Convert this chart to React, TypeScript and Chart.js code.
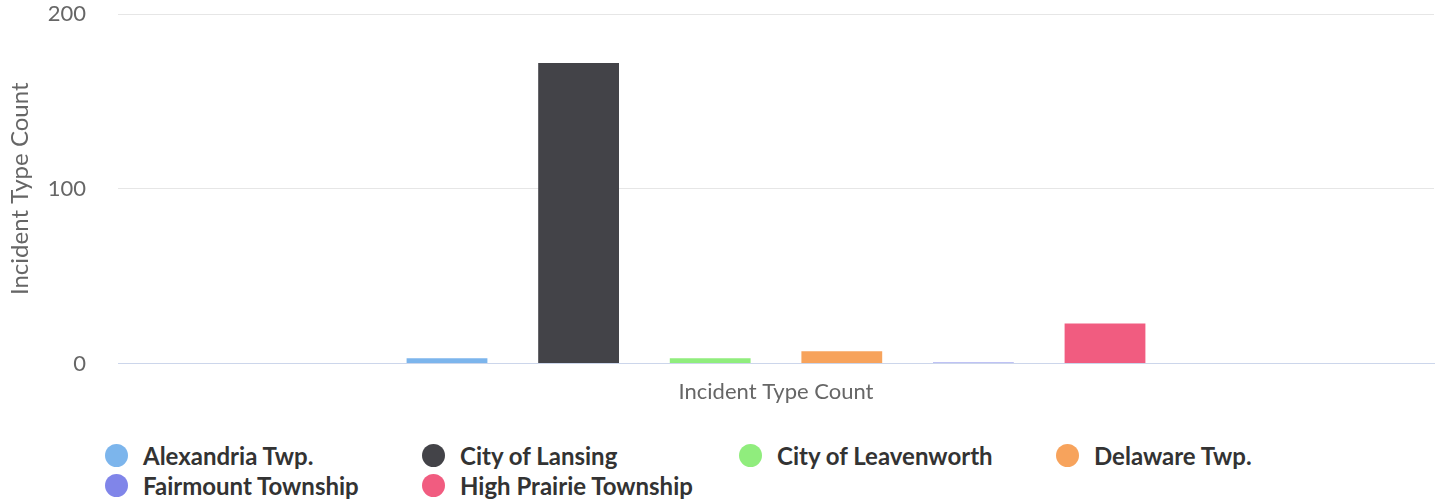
import React, { useEffect, useRef } from "react";
import { Chart, registerables } from "chart.js";

Chart.register(...registerables);

const categories = [""];
const seriesNames = [
  "Alexandria Twp.",
  "City of Lansing",
  "City of Leavenworth",
  "Delaware Twp.",
  "Fairmount Township",
  "High Prairie Township",
];
const seriesValues = [3, 172, 3, 7, 0, 23];
const seriesColors = ["#7cb5ec", "#434348", "#90ed7d", "#f7a35c", "#8085e9", "#f15c80"];
const yTicks = [0, 100, 200];
const axisTitle = "Incident Type Count";

export default function App() {
  const ref = useRef<HTMLCanvasElement | null>(null);

  useEffect(() => {
    document.body.style.margin = "0";
    const canvas = ref.current;
    if (!canvas) return;
    const chart = new Chart(canvas, {
      type: "bar",
      data: {
        labels: categories,
        datasets: seriesNames.map((name, i) => ({
          label: name,
          data: [seriesValues[i]],
          backgroundColor: seriesColors[i],
          borderWidth: 0,
          minBarLength: 1,
          categoryPercentage: 0.6,
          barPercentage: 0.614,
        })),
      },
      options: {
        animation: false,
        responsive: false,
        maintainAspectRatio: false,
        layout: { padding: { top: 14, right: 7, left: 0, bottom: 3 } },
        plugins: { legend: { display: false }, tooltip: { enabled: false } },
        scales: {
          x: {
            grid: { display: false, drawTicks: false },
            border: { display: true, color: "#ccd6eb", width: 1 },
            ticks: { display: false },
            title: {
              display: true,
              text: axisTitle,
              color: "#666666",
              font: { family: "Lato", size: 22 },
              padding: { top: 15, bottom: 0 },
            },
          },
          y: {
            min: 0,
            max: 200,
            afterBuildTicks: (scale: any) => {
              scale.ticks = yTicks.map((v) => ({ value: v }));
            },
            afterFit: (scale: any) => {
              scale.width = 118;
              scale.paddingTop = 0;
              scale.paddingBottom = 0;
            },
            border: { display: false },
            grid: {
              drawTicks: false,
              color: (ctx: any) => (ctx.tick && ctx.tick.value === 0 ? "#ccd6eb" : "#e6e6e6"),
            },
            ticks: {
              padding: 32,
              color: "#666666",
              font: { family: "Lato", size: 22 },
            },
            title: {
              display: true,
              text: axisTitle,
              color: "#666666",
              font: { family: "Lato", size: 24 },
              padding: { top: 6, bottom: 0 },
            },
          },
        },
      },
    });
    return () => chart.destroy();
  }, []);

  return (
    <div style={{ width: 1441, position: "relative", background: "#fff" }}>
      <canvas ref={ref} width={1441} height={408} style={{ display: "block", width: 1441, height: 408 }} />
      <div
        style={{
          display: "grid",
          gridTemplateColumns: "repeat(4, 317px)",
          gridAutoRows: "30px",
          marginLeft: 105,
          marginTop: 32,
          fontFamily: "Lato",
          fontWeight: 700,
          fontSize: 24,
          color: "#333333",
        }}
      >
        {seriesNames.map((name, i) => (
          <div key={name} style={{ display: "flex", alignItems: "center", whiteSpace: "nowrap" }}>
            <span
              style={{
                display: "inline-block",
                width: 23,
                height: 23,
                borderRadius: "50%",
                background: seriesColors[i],
                marginRight: 15,
                flex: "none",
              }}
            />
            <span>{name}</span>
          </div>
        ))}
      </div>
    </div>
  );
}
